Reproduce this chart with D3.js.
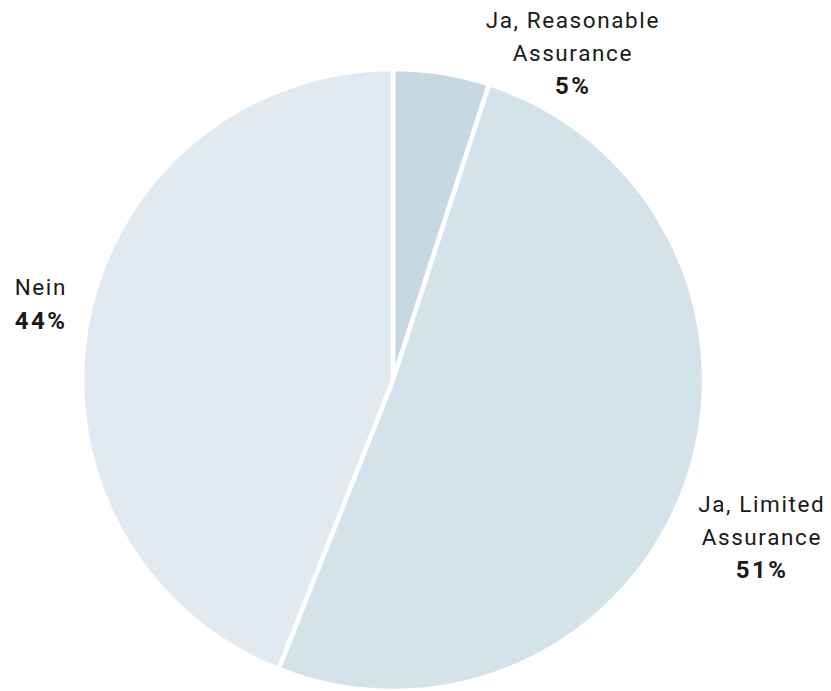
<!DOCTYPE html>
<html><head><meta charset="utf-8">
<script src="https://cdn.jsdelivr.net/npm/d3@7"></script>
<style>html,body{margin:0;padding:0;background:#fff;}svg{display:block;}</style>
</head><body>
<svg id="chart" width="831" height="691"></svg>
<script>
const categories = ["Ja, Reasonable Assurance", "Ja, Limited Assurance", "Nein"];
const values = [5, 51, 44];
const labelLines = [["Ja, Reasonable", "Assurance"], ["Ja, Limited", "Assurance"], ["Nein"]];
const percentLabels = ["5%", "51%", "44%"];
const colors = ["#c6d9e2", "#d4e2e9", "#e1eaf0"];

const svg = d3.select("#chart");
const cx = 393, cy = 380, r = 311;
const g = svg.append("g").attr("transform", `translate(${cx},${cy})`);
const pie = d3.pie().sort(null).value(d => d)(values);
const arc = d3.arc().innerRadius(0).outerRadius(r);
g.selectAll("path").data(pie).enter().append("path")
  .attr("d", arc)
  .attr("fill", (d, i) => colors[i])
  .attr("stroke", "#fff").attr("stroke-width", 4.5).attr("stroke-linejoin", "miter");

// label positions (absolute)
const labelPos = [[572, 28], [761, 512], [40, 295]];
const lh = 32.5;
const font = "Roboto, 'DejaVu Sans', sans-serif";
labelPos.forEach((p, i) => {
  const n = labelLines[i].length;
  labelLines[i].forEach((ln, j) => {
    svg.append("text").attr("text-anchor", "middle")
      .attr("font-family", font).attr("font-size", 22.5).attr("fill", "#1a1a1a")
      .attr("letter-spacing", 1.6)
      .attr("x", p[0] + 0.8).attr("y", p[1] + j * lh).text(ln);
  });
  svg.append("text").attr("text-anchor", "middle")
    .attr("font-family", font).attr("font-size", 24).attr("font-weight", "bold")
    .attr("fill", "#1a1a1a").attr("letter-spacing", 2.5)
    .attr("x", p[0] + 1.2).attr("y", p[1] + n * lh + 1).text(percentLabels[i]);
});
</script>
</body></html>
